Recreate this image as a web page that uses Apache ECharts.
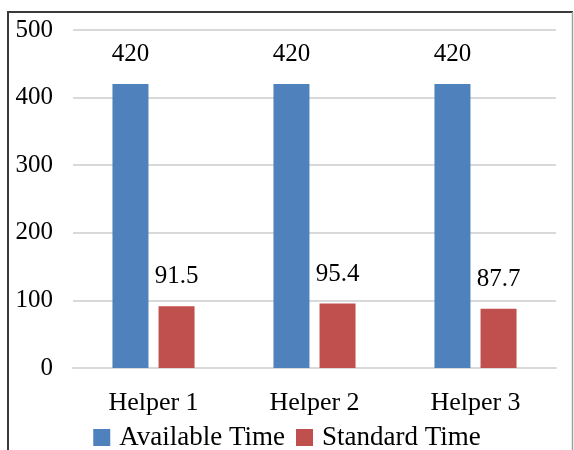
<!DOCTYPE html>
<html>
<head>
<meta charset="utf-8">
<style>
  html, body { margin: 0; padding: 0; background: #fff; }
  #chart { width: 574px; height: 450px; }
</style>
<script src="https://cdn.jsdelivr.net/npm/echarts@6/dist/echarts.min.js"></script>
</head>
<body>
<div id="chart"></div>
<script>
// Minutes available vs. standard minutes per helper
const categories = ['Helper 1', 'Helper 2', 'Helper 3'];
const availableTime = [420, 420, 420];
const standardTime = [91.5, 95.4, 87.7];
const yTicks = [0, 100, 200, 300, 400, 500];

const FONT = '"Liberation Serif", "Times New Roman", serif';

const chart = echarts.init(document.getElementById('chart'), null, { renderer: 'canvas' });

const labelStyle = {
  show: true,
  position: 'top',
  distance: 17,
  fontFamily: FONT,
  fontSize: 25,
  color: '#000'
};

chart.setOption({
  animation: false,
  backgroundColor: '#fff',
  grid: { left: 73, right: 18, top: 30, bottom: 82, containLabel: false },
  legend: {
    top: 419,
    left: 'center',
    itemWidth: 17,
    itemHeight: 17,
    itemGap: 11,
    icon: 'rect',
    textStyle: { fontFamily: FONT, fontSize: 27, color: '#000', padding: [0, 0, 0, 4] },
    data: ['Available Time', 'Standard Time']
  },
  xAxis: {
    type: 'category',
    data: categories,
    axisLine: { show: true, lineStyle: { color: '#d9d9d9', width: 2 } },
    axisTick: { show: false },
    axisLabel: { fontFamily: FONT, fontSize: 26, color: '#000', margin: 22 }
  },
  yAxis: {
    type: 'value',
    min: yTicks[0],
    max: yTicks[yTicks.length - 1],
    interval: yTicks[1] - yTicks[0],
    axisLine: { show: false },
    axisTick: { show: false },
    splitLine: { lineStyle: { color: '#d9d9d9', width: 2 } },
    axisLabel: { fontFamily: FONT, fontSize: 25, color: '#000', margin: 20 }
  },
  series: [
    {
      name: 'Available Time',
      type: 'bar',
      data: availableTime,
      barWidth: 36,
      barGap: '28%',
      itemStyle: { color: '#4F81BD' },
      label: labelStyle
    },
    {
      name: 'Standard Time',
      type: 'bar',
      data: standardTime,
      barWidth: 36,
      barGap: '28%',
      itemStyle: { color: '#C0504D' },
      label: labelStyle
    }
  ],
  graphic: [
    // frame: dark top and left edges, light right edge
    { type: 'line', shape: { x1: 8, y1: 12, x2: 573, y2: 12 }, style: { stroke: '#3a3a3a', lineWidth: 2 } },
    { type: 'line', shape: { x1: 8, y1: 11, x2: 8, y2: 450 }, style: { stroke: '#3a3a3a', lineWidth: 2 } },
    { type: 'line', shape: { x1: 572.5, y1: 12, x2: 572.5, y2: 450 }, style: { stroke: '#a0a0a0', lineWidth: 1.5 } }
  ]
});
</script>
</body>
</html>
